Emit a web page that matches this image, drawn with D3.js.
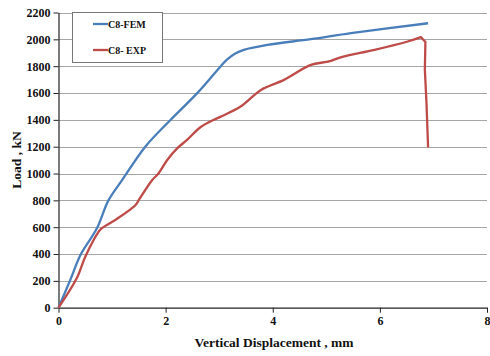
<!DOCTYPE html>
<html><head><meta charset="utf-8">
<script src="https://cdn.jsdelivr.net/npm/d3@7"></script>
<style>body{margin:0;background:#fff}svg{display:block}</style>
</head><body>
<script>
const xTicks = [0, 2, 4, 6, 8];
const yTicks = [0, 200, 400, 600, 800, 1000, 1200, 1400, 1600, 1800, 2000, 2200];
const seriesNames = ["C8-FEM", "C8- EXP"];
const femX = [0, 0.22, 0.41, 0.72, 0.93, 1.19, 1.62, 2.09, 2.59, 3.03, 3.15, 3.3, 3.46, 3.9, 4.71, 5.46, 6.9];
const femY = [0, 207, 393, 594, 798, 952, 1200, 1399, 1599, 1800, 1850, 1895, 1922, 1959, 2001, 2046, 2120];
const expX = [0, 0.34, 0.5, 0.75, 0.8, 1.06, 1.44, 1.5, 1.75, 1.87, 2.03, 2.22, 2.4, 2.65, 2.9, 3.03, 3.4, 3.78, 4.21, 4.71, 5.03, 5.3, 5.9, 6.52, 6.77, 6.85, 6.84, 6.87, 6.9];
const expY = [0, 219, 380, 567, 590, 654, 766, 803, 952, 1002, 1101, 1189, 1250, 1345, 1400, 1424, 1499, 1623, 1698, 1810, 1834, 1870, 1922, 1984, 2016, 1980, 1773, 1527, 1200];
const colors = ["#4a7ebb", "#be4b48"];

const W = 490, H = 356;
const svg = d3.select("body").append("svg").attr("width", W).attr("height", H);
const x = d3.scaleLinear().domain([0, 8]).range([58.5, 487]);
const y = d3.scaleLinear().domain([0, 2200]).range([307.7, 12.5]);
const font = "'Liberation Serif', 'Times New Roman', serif";

// gridlines
svg.append("g").selectAll("line").data(yTicks.filter(d => d > 0)).join("line")
  .attr("x1", x(0)).attr("x2", x(8))
  .attr("y1", d => Math.round(y(d)) + 0.5).attr("y2", d => Math.round(y(d)) + 0.5)
  .attr("stroke", "#a6a6a6").attr("stroke-width", 1);

// axes
const yAxis = svg.append("g").attr("transform", `translate(${x(0)},0)`)
  .call(d3.axisLeft(y).tickValues(yTicks).tickFormat(d3.format("d")).tickSize(5).tickSizeOuter(0).tickPadding(3));
const xAxis = svg.append("g").attr("transform", `translate(0,${y(0)})`)
  .call(d3.axisBottom(x).tickValues(xTicks).tickFormat(d3.format("d")).tickSize(5).tickSizeOuter(0).tickPadding(4));
[xAxis, yAxis].forEach(a => {
  a.select(".domain").attr("stroke", "#222").attr("stroke-width", 1.2);
  a.selectAll(".tick line").attr("stroke", "#222");
  a.selectAll("text").attr("font-family", font).attr("font-weight", "bold")
    .attr("font-size", 12).attr("fill", "#111");
});

// lines
const lineC = d3.line().x(d => x(d[0])).y(d => y(d[1])).curve(d3.curveCatmullRom.alpha(0.5));
const lineL = d3.line().x(d => x(d[0])).y(d => y(d[1]));
const femData = femX.map((v, i) => [v, femY[i]]);
const expData = expX.map((v, i) => [v, expY[i]]);
const peak = expY.indexOf(d3.max(expY));
svg.append("path").datum(femData).attr("d", lineC).attr("fill", "none")
  .attr("stroke", colors[0]).attr("stroke-width", 2.3).attr("stroke-linejoin", "round");
svg.append("path").datum(expData.slice(0, peak + 1)).attr("d", lineC).attr("fill", "none")
  .attr("stroke", colors[1]).attr("stroke-width", 2.3).attr("stroke-linejoin", "round");
svg.append("path").datum(expData.slice(peak)).attr("d", lineL).attr("fill", "none")
  .attr("stroke", colors[1]).attr("stroke-width", 2.3).attr("stroke-linejoin", "round").attr("stroke-linecap", "round");

// legend
const lg = svg.append("g");
lg.append("rect").attr("x", 72.5).attr("y", 12.5).attr("width", 90).attr("height", 50)
  .attr("fill", "#fff").attr("stroke", "#777").attr("stroke-width", 1);
seriesNames.forEach((n, i) => {
  const yy = 24 + i * 26;
  lg.append("line").attr("x1", 93).attr("x2", 108).attr("y1", yy).attr("y2", yy)
    .attr("stroke", colors[i]).attr("stroke-width", 2.3);
  lg.append("text").attr("x", 108).attr("y", yy + 3.5).text(n)
    .attr("font-family", font).attr("font-weight", "bold").attr("font-size", 10)
    .attr("fill", "#111");
});

// axis titles
svg.append("text").attr("x", 274).attr("y", 347).attr("text-anchor", "middle")
  .attr("font-family", font).attr("font-weight", "bold").attr("font-size", 13.5)
  .attr("fill", "#111").text("Vertical Displacement , mm");
svg.append("text").attr("transform", "translate(21,160) rotate(-90)").attr("text-anchor", "middle")
  .attr("font-family", font).attr("font-weight", "bold").attr("font-size", 13.5)
  .attr("fill", "#111").text("Load , kN");
</script>
</body></html>
